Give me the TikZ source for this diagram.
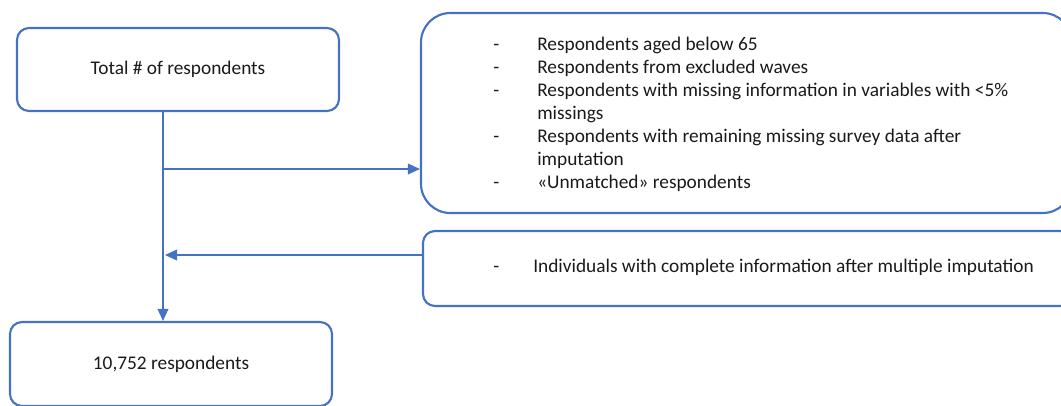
\documentclass[tikz,border=0pt]{standalone}
\usepackage{fontspec}
\setmainfont{Carlito}
\usetikzlibrary{arrows.meta}
\definecolor{flowblue}{HTML}{4472C4}
\definecolor{inkgrey}{HTML}{1A1A1A}
\begin{document}
\begin{tikzpicture}[x=0.75pt,y=-0.75pt,
  box/.style={draw=flowblue,line width=1.6pt,rounded corners=9pt,
    inner sep=0pt,text=inkgrey,font=\fontsize{14.5}{17.25}\selectfont},
  bigbox/.style={box,rounded corners=22pt},
  conn/.style={draw=flowblue,line width=1.1pt,
    -{Triangle[length=9pt,width=8pt]}},
  listtext/.style={inner sep=0pt,anchor=west,text=inkgrey,
    font=\fontsize{14.5}{17.25}\selectfont}]
\useasboundingbox (0,0) rectangle (1061,405);
\clip (0,0) rectangle (1061,405);

% boxes
\node[box,minimum width=322*0.75pt,minimum height=83*0.75pt] (total) at (178,69.5) {Total \# of respondents};
\node[bigbox,minimum width=651*0.75pt,minimum height=200*0.75pt] (excl) at (746.5,113) {};
\node[box,minimum width=649*0.75pt,minimum height=75*0.75pt] (incl) at (747.5,268.5) {};
\node[box,minimum width=322*0.75pt,minimum height=84*0.75pt] (final) at (171,364) {10,752 respondents};

% exclusion criteria
\node[listtext] (excltext) at (493,115) {%
  \begin{tabular}{@{}p{33pt}@{}l@{}}
  - & Respondents aged below 65\\
  - & Respondents from excluded waves\\
  - & Respondents with missing information in variables with <5\%\\
    & missings\\
  - & Respondents with remaining missing survey data after\\
    & imputation\\
  - & «Unmatched» respondents
  \end{tabular}};

% inclusion criterion
\node[listtext] (incltext) at (493,268) {%
  \begin{tabular}{@{}p{30pt}@{}l@{}}
  - & Individuals with complete information after multiple imputation
  \end{tabular}};

% connectors
\coordinate (spine) at (163,0);
\coordinate (lvl1) at (0,169);
\coordinate (lvl2) at (0,255);
\draw[conn] (total.south -| spine) -- (final.north -| spine);
\draw[conn] (spine |- lvl1) -- (excl.west |- lvl1);
\draw[conn] (incl.west |- lvl2) -- ([xshift=1.5pt]spine |- lvl2);
\end{tikzpicture}
\end{document}
